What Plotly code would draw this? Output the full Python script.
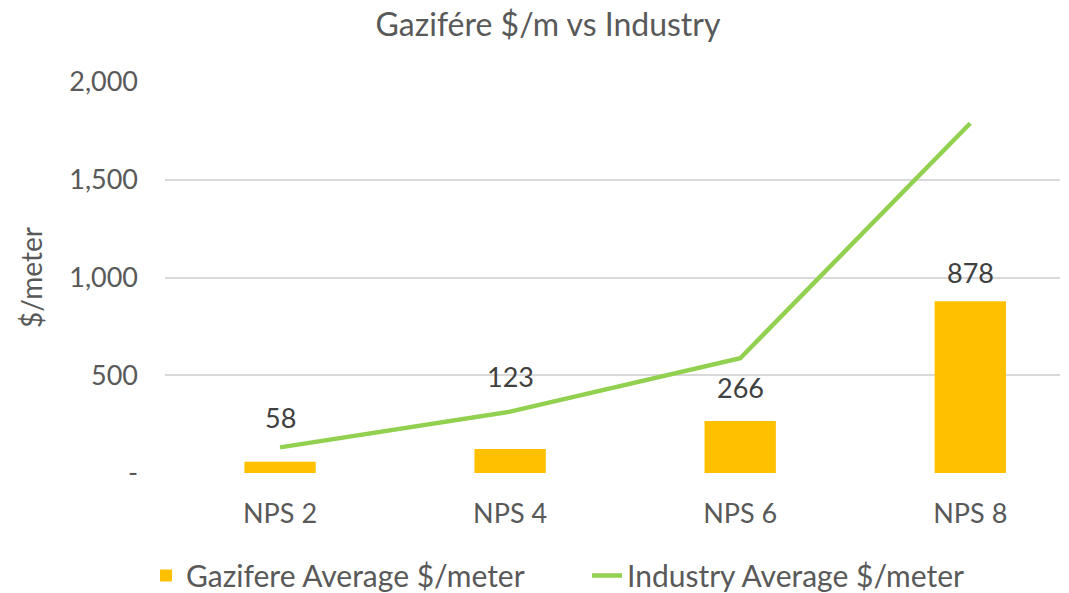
import plotly.graph_objects as go

categories = ["NPS 2", "NPS 4", "NPS 6", "NPS 8"]
gazifere_avg = [58, 123, 266, 878]
industry_avg = [131, 314, 587, 1789]
y_tickvals = [0, 500, 1000, 1500, 2000]
y_ticktext = ["-", "500", "1,000", "1,500", "2,000"]

# vertical pixel offsets of the data labels above bar tops (style)
label_shift_px = [44, 72, 34, 29]

FONT = "Lato"
GREY = "#595959"

fig = go.Figure()
fig.add_trace(go.Bar(
    x=categories, y=gazifere_avg, name="Gazifere Average $/meter",
    marker=dict(color="#FFC000", line=dict(width=0)), width=0.31,
))
fig.add_trace(go.Scatter(
    x=categories, y=industry_avg, name="Industry Average $/meter",
    mode="lines", line=dict(color="#92D050", width=4.5),
))

for c, v, s in zip(categories, gazifere_avg, label_shift_px):
    fig.add_annotation(x=c, y=v, text=f"{v:,}", showarrow=False,
                       yanchor="middle", yshift=s,
                       font=dict(family=FONT, size=27, color="#404040"))

# page body has an 8px margin; figure is sized/offset to compensate
fig.update_layout(
    width=1061, height=585,
    margin=dict(l=157, r=9, t=74, b=120, autoexpand=False),
    paper_bgcolor="white", plot_bgcolor="white",
    font=dict(family=FONT, color=GREY, size=27),
    title=dict(text="Gazifére $/m vs Industry", x=0.509, xanchor="center",
               yref="container", y=0.99, yanchor="top", automargin=False,
               pad=dict(t=0, b=0),
               font=dict(family=FONT, size=32, color=GREY)),
    legend=dict(orientation="h", x=0.4715, xanchor="center",
                yref="container", y=0.03, yanchor="middle",
                font=dict(family=FONT, size=30, color=GREY), itemwidth=30,
                entrywidth=396, traceorder="normal"),
    showlegend=True,
)
fig.update_xaxes(range=[-0.5, 3.39], showgrid=False, showline=False, ticks="",
                 ticklabelstandoff=22, automargin=False,
                 tickfont=dict(family=FONT, size=27, color=GREY))
fig.update_yaxes(range=[0, 2000], tickvals=y_tickvals, ticktext=y_ticktext,
                 showgrid=True, gridcolor="#D9D9D9", gridwidth=1.5, zeroline=False,
                 ticks="", ticklen=0, ticklabelstandoff=26, automargin=False,
                 tickfont=dict(family=FONT, size=27, color=GREY),
                 title=dict(text="$/meter", font=dict(family=FONT, size=28, color=GREY),
                            standoff=18))

fig.write_html("out.html")
